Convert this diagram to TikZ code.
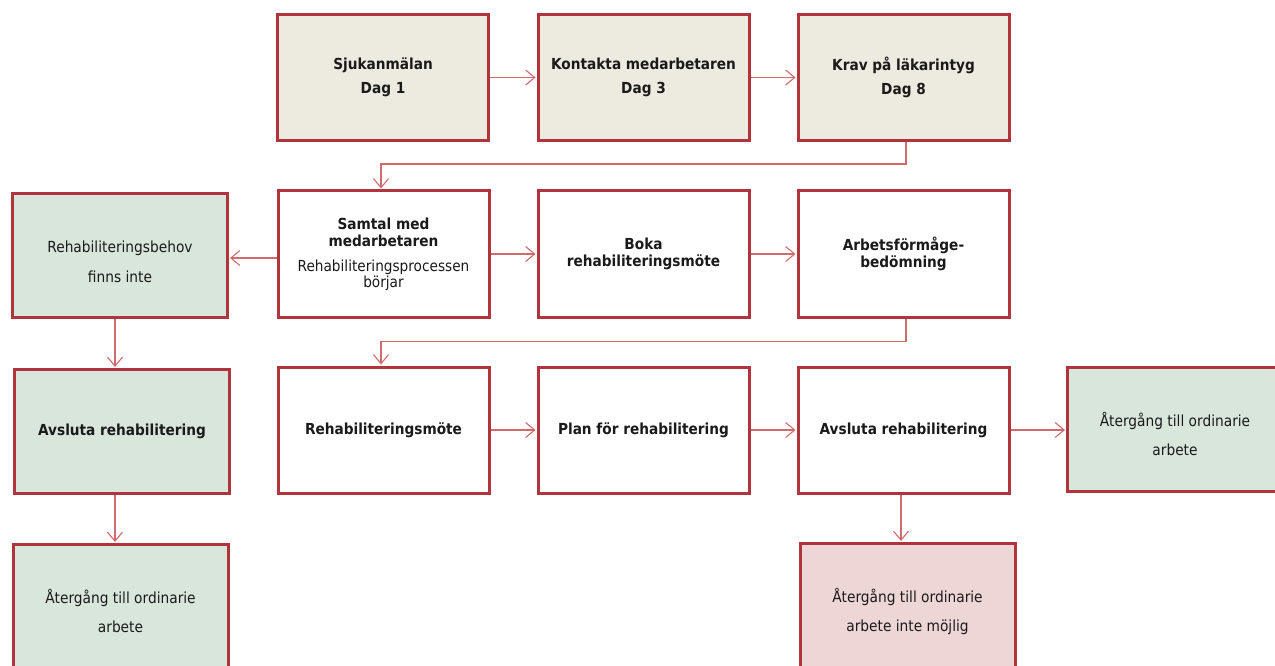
\documentclass[tikz,border=0pt]{standalone}
\usepackage{fontspec}
\setmainfont{DejaVu Sans Condensed}
\usetikzlibrary{arrows.meta}
\definecolor{bord}{HTML}{B0343C}
\definecolor{arr}{HTML}{D06A6C}
\definecolor{beigec}{HTML}{EDEAE0}
\definecolor{greenc}{HTML}{D9E6DC}
\definecolor{pinkc}{HTML}{EED6D7}
\definecolor{txt}{HTML}{1A1A1A}
\tikzset{
  box/.style={draw=bord, line width=3pt, minimum width=211pt, minimum height=126pt,
    inner sep=0pt, align=center, text=txt, font=\fontsize{15.3}{17}\selectfont},
  bbox/.style={box, font=\fontsize{15.2}{17}\selectfont\bfseries},
  beigebox/.style={bbox, fill=beigec},
  whitebox/.style={bbox, fill=white},
  greenbox/.style={box, fill=greenc, minimum width=215pt, minimum height=124pt},
  pinkbox/.style={box, fill=pinkc, minimum width=215pt, minimum height=124pt},
  boxtext/.style={inner sep=0pt, align=center, text=txt, font=\fontsize{15.3}{17}\selectfont},
  conn/.style={draw=arr, line width=1.1pt, -{Straight Barb[length=9pt,width=15pt,line width=1.1pt]}, shorten >=1pt}
}
\begin{document}
\begin{tikzpicture}[x=1pt,y=-1pt]
\useasboundingbox (0,0) rectangle (1275,666);
\clip (0,0) rectangle (1275,666);
% row 1
\node[beigebox] (a) at (383,77.5) {Sjukanmälan\\[7pt]Dag 1};
\node[beigebox] (b) at (643.5,77.5) {Kontakta medarbetaren\\[7pt]Dag 3};
\node[beigebox] (c) at (903.5,77.5) {Krav på läkarintyg\\[7pt]Dag 8};
% row 2
\node[greenbox] (lg) at (120,255.5) {};
\node[boxtext] (lgt) at ([yshift=-6pt]lg.center) {Rehabiliteringsbehov\\[13pt]finns inte};
\node[whitebox] (s) at (383.5,254) {Samtal med\\medarbetaren\\[8pt]{\mdseries Rehabiliteringsprocessen}\\[-1pt]{\mdseries börjar}};
\node[whitebox] (bk) at (643.5,254) {Boka\\rehabiliteringsmöte};
\node[whitebox] (af) at (903.5,254) {Arbetsförmåge-\\bedömning};
% row 3
\node[greenbox, font=\fontsize{15.2}{17}\selectfont\bfseries] (ag) at (122,431.5) {Avsluta rehabilitering};
\node[whitebox] (rm) at (383.5,430) {Rehabiliteringsmöte};
\node[whitebox] (pl) at (643.5,430) {Plan för rehabilitering};
\node[whitebox] (av) at (903.5,430) {Avsluta rehabilitering};
\node[greenbox] (rg) at (1175,429) {};
\node[boxtext] (rgt) at ([yshift=-5pt]rg.center) {Återgång till ordinarie\\[12pt]arbete};
% row 4
\node[greenbox] (bg) at (120.5,606.5) {};
\node[boxtext] (bgt) at ([yshift=-5pt]bg.center) {Återgång till ordinarie\\[12pt]arbete};
\node[pinkbox] (pk) at (907.5,605.5) {};
\node[boxtext] (pkt) at ([yshift=-6pt]pk.center) {Återgång till ordinarie\\[12pt]arbete inte möjlig};
% connectors
\draw[conn] (a.east) -- (b.west);
\draw[conn] (b.east) -- (c.west);
\draw[conn] ([xshift=2.5pt]c.south) -- ++(0,22) -| ([xshift=-2.5pt]s.north);
\draw[conn] ([yshift=-4pt]s.west) -- ([yshift=-4pt]s.west -| lg.east);
\draw[conn] (s.east) -- (bk.west);
\draw[conn] (bk.east) -- (af.west);
\draw[conn] ([xshift=2.5pt]af.south) -- ++(0,23) -| ([xshift=-2.5pt]rm.north);
\draw[conn] ([xshift=-5pt]lg.south) -- ([xshift=-5pt]lg.south |- ag.north);
\draw[conn] ([xshift=-7pt]ag.south) -- ([xshift=-7pt]ag.south |- bg.north);
\draw[conn] (rm.east) -- (pl.west);
\draw[conn] (pl.east) -- (av.west);
\draw[conn] (av.east) -- (av.east -| rg.west);
\draw[conn] ([xshift=-2.5pt]av.south) -- ([xshift=-2.5pt]av.south |- pk.north);
\end{tikzpicture}
\end{document}
